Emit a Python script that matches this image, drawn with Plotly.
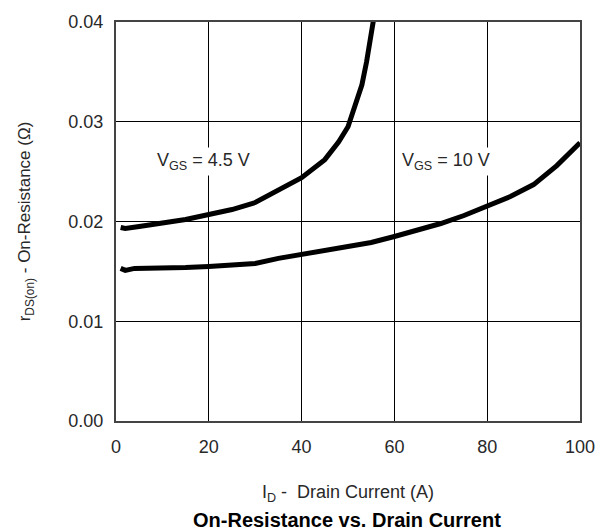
import plotly.graph_objects as go

# Drain current (A) and on-resistance (ohm) for each gate drive
id_vgs45 = [1, 2, 5, 10, 15, 20, 25, 30, 35, 40, 45, 48, 50, 51.5, 53, 54, 55, 55.6]
rds_vgs45 = [0.0194, 0.0193, 0.0195, 0.0198, 0.0202, 0.0207, 0.0212, 0.0219, 0.0231,
             0.0244, 0.0262, 0.0280, 0.0295, 0.0315, 0.0337, 0.0360, 0.0385, 0.0405]

id_vgs10 = [1, 2, 4, 8, 15, 20, 30, 35, 40, 45, 50, 55, 60, 65, 70, 75, 80, 85, 90, 95, 100]
rds_vgs10 = [0.0153, 0.0151, 0.0153, 0.0153, 0.0154, 0.0155, 0.0158, 0.0163, 0.0167, 0.0170,
             0.0174, 0.0179, 0.0185, 0.0191, 0.0198, 0.0206, 0.0215, 0.0225, 0.0237, 0.0256, 0.0279]

x_ticks = [0, 20, 40, 60, 80, 100]
y_ticks = [0.00, 0.01, 0.02, 0.03, 0.04]

curve_labels = ["V<sub>GS</sub> = 4.5 V", "V<sub>GS</sub> = 10 V"]
label_x = [18.8, 71.2]
label_y = [0.0260, 0.0260]

FONT = "Liberation Sans, Arial, Helvetica, sans-serif"
TEXT = "#282828"

fig = go.Figure()
for xs, ys in ((id_vgs45, rds_vgs45), (id_vgs10, rds_vgs10)):
    fig.add_trace(go.Scatter(x=xs, y=ys, mode="lines",
                             line=dict(color="black", width=5),
                             showlegend=False, hoverinfo="skip"))

for txt, lx, ly in zip(curve_labels, label_x, label_y):
    fig.add_annotation(x=lx, y=ly, text=txt, showarrow=False,
                       font=dict(family=FONT, size=18, color=TEXT),
                       bgcolor="white", borderpad=2,
                       xanchor="center", yanchor="middle")

fig.add_annotation(x=0.497, xref="paper", y=-0.247, yref="paper",
                   text="<b>On-Resistance vs. Drain Current</b>", showarrow=False,
                   font=dict(family=FONT, size=20, color="black"),
                   xanchor="center", yanchor="middle")

fig.update_layout(
    width=612, height=531,
    margin=dict(l=116, r=32, t=16, b=110),
    paper_bgcolor="white", plot_bgcolor="white",
    font=dict(family=FONT, size=18, color=TEXT),
    xaxis=dict(range=[0, 100], tickvals=x_ticks, ticktext=[str(v) for v in x_ticks],
               showgrid=True, gridcolor="black", gridwidth=1,
               showline=True, linecolor="#444444", linewidth=2, mirror=True,
               zeroline=False, ticks="", ticklabelstandoff=8,
               title=dict(text="I<sub>D</sub> -  Drain Current (A)",
                          font=dict(family=FONT, size=18, color=TEXT), standoff=30)),
    yaxis=dict(range=[0, 0.04], tickvals=y_ticks, ticktext=[f"{v:.2f}" for v in y_ticks],
               showgrid=True, gridcolor="black", gridwidth=1,
               showline=True, linecolor="#444444", linewidth=2, mirror=True,
               zeroline=False, ticks="", ticklabelstandoff=7,
               title=dict(text="r<sub>DS(on)</sub> - On-Resistance (Ω)",
                          font=dict(family=FONT, size=17, color=TEXT), standoff=33)),
)

fig.write_html("out.html")
